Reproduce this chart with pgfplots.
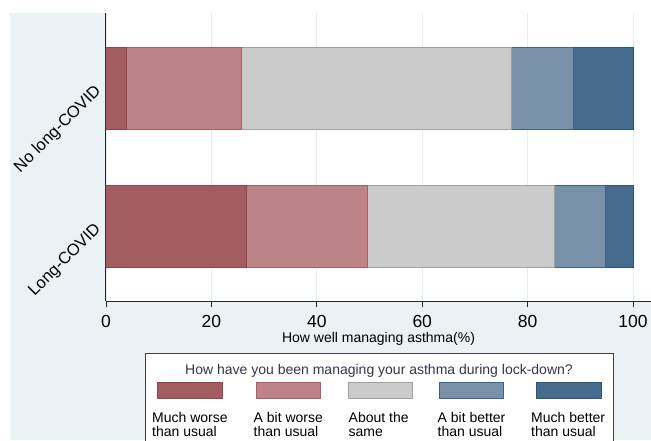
\documentclass[border=0pt]{standalone}
\usepackage{fontspec}
\setmainfont{Liberation Sans}
\usepackage{pgfplots}
\pgfplotsset{compat=1.18}
\definecolor{bgc}{HTML}{EAF2F3}
\definecolor{gridc}{HTML}{E4EDEF}
\definecolor{c1}{HTML}{A35C5F}
\definecolor{c1d}{HTML}{92444A}
\definecolor{c2}{HTML}{BC8486}
\definecolor{c2d}{HTML}{AA5D62}
\definecolor{c3}{HTML}{CBCBCB}
\definecolor{c3d}{HTML}{A0A0A0}
\definecolor{c4}{HTML}{7891A8}
\definecolor{c4d}{HTML}{3F6189}
\definecolor{c5}{HTML}{476B8C}
\definecolor{c5d}{HTML}{2C5278}
\definecolor{ttl}{HTML}{34344E}
\begin{document}
\begin{tikzpicture}[x=1pt,y=1pt]
\path[use as bounding box] (0,0) rectangle (651,440);
\fill[bgc] (10,0) rectangle (651,427);
\begin{axis}[
  at={(106pt,139pt)}, anchor=south west,
  scale only axis, width=545pt, height=288pt,
  xmin=0, xmax=103.4, ymin=-0.5435, ymax=1.5435,
  xbar stacked, bar width=82pt,
  axis background/.style={fill=white},
  axis x line*=bottom, axis y line*=left,
  axis line style={black!85, line width=1pt},
  xtick={0,20,40,60,80,100},
  ytick={0,1}, yticklabels={Long-COVID, No long-COVID},
  tick align=outside, major tick length=6pt,
  xtick style={black!85, line width=0.8pt},
  ytick style={draw=none},
  xmajorgrids, grid style={gridc, line width=0.8pt},
  /pgf/number format/assume math mode=true,
  xticklabel style={font=\fontsize{17.5}{17.5}\selectfont, yshift=-5pt},
  yticklabel style={font=\fontsize{16.5}{16.5}\selectfont, xshift=1pt, yshift=1.5pt, rotate=45, anchor=east},
  xlabel={How well managing asthma(\%)},
  xlabel style={font=\fontsize{14}{14}\selectfont, at={(axis description cs:0.5,-0.1424)}, anchor=base, inner sep=0pt},
]
\addplot[fill=c1, draw=c1d, line width=1pt] coordinates {(26.6,0) (3.9,1)};
\addplot[fill=c2, draw=c2d, line width=1pt] coordinates {(23.0,0) (21.8,1)};
\addplot[fill=c3, draw=c3d, line width=1pt] coordinates {(35.4,0) (51.2,1)};
\addplot[fill=c4, draw=c4d, line width=1pt] coordinates {(9.8,0) (11.8,1)};
\addplot[fill=c5, draw=c5d, line width=1pt] coordinates {(5.2,0) (11.3,1)};
\end{axis}
% legend
\draw[fill=white, draw=black!75, line width=0.8pt] (145,-5) rectangle (613,86.5);
\node[anchor=base, font=\fontsize{14}{14}\selectfont, text=ttl, inner sep=0] at (379,66) {How have you been managing your asthma during lock-down?};
\fill[c1, draw=c1d, line width=1pt] (157.5,41.5) rectangle (222.5,58);
\fill[c2, draw=c2d, line width=1pt] (256,41.5) rectangle (320.5,58);
\fill[c3, draw=c3d, line width=1pt] (348.5,41.5) rectangle (412,58);
\fill[c4, draw=c4d, line width=1pt] (439.5,41.5) rectangle (503.5,58);
\fill[c5, draw=c5d, line width=1pt] (536.5,41.5) rectangle (601,58);
\foreach \xx/\la/\lb in {152/Much worse/than usual, 253.5/A bit worse/than usual, 348.5/About the/same, 437.5/A bit better/than usual, 531/Much better/than usual}{
  \node[anchor=base west, font=\fontsize{14}{14}\selectfont, inner sep=0] at (\xx,17.3) {\la};
  \node[anchor=base west, font=\fontsize{14}{14}\selectfont, inner sep=0] at (\xx,4) {\lb};
}
\end{tikzpicture}
\end{document}
